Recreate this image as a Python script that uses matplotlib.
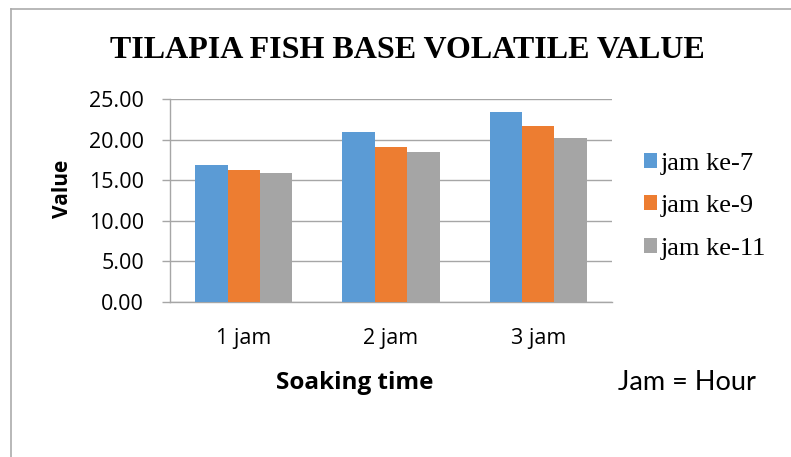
import matplotlib
matplotlib.use("Agg")
import matplotlib.pyplot as plt
from matplotlib.lines import Line2D
import numpy as np

# soaking time categories and base volatile values per sampling hour
categories = ["1 jam", "2 jam", "3 jam"]
series_names = ["jam ke-7", "jam ke-9", "jam ke-11"]
jam_ke_7 = [16.92, 20.92, 23.39]
jam_ke_9 = [16.23, 19.07, 21.70]
jam_ke_11 = [15.86, 18.49, 20.18]
y_ticks = [0, 5, 10, 15, 20, 25]

colors = ["#5B9BD5", "#ED7D31", "#A5A5A5"]
grid_color = "#A6A6A6"
W, H = 791, 457

fig = plt.figure(figsize=(W / 100, H / 100), dpi=100)
ax = fig.add_axes([170.3 / W, 1 - 301.7 / H, 441.4 / W, 202.4 / H])

x = np.arange(len(categories))
bw = 0.22
for i, (vals, name) in enumerate(zip([jam_ke_7, jam_ke_9, jam_ke_11], series_names)):
    ax.bar(x + (i - 1) * bw, vals, width=bw, color=colors[i], label=name, zorder=3)

ax.set_xlim(-0.5, len(categories) - 0.5)
ax.set_ylim(0, 25)
ax.set_yticks(y_ticks)
ax.set_yticklabels([f"{v:.2f}" for v in y_ticks], fontfamily="Open Sans", fontsize=15.5)
ax.set_xticks(x)
ax.set_xticklabels(categories, fontfamily="Open Sans", fontsize=15.5)
ax.yaxis.grid(True, color=grid_color, linewidth=1.0, zorder=0)
ax.tick_params(axis="y", length=6, width=1.0, color=grid_color, pad=13)
ax.tick_params(axis="x", length=0, pad=19)
for side in ["top", "right"]:
    ax.spines[side].set_visible(False)
for side in ["left", "bottom"]:
    ax.spines[side].set_color(grid_color)
    ax.spines[side].set_linewidth(1.0)

# outer chart frame (only top and left edges fall inside the image)
fig.add_artist(Line2D([11 / W, 11 / W], [0, 1 - 9 / H], color="#ABABAB", linewidth=1.2))
fig.add_artist(Line2D([11 / W, 1], [1 - 9 / H, 1 - 9 / H], color="#ABABAB", linewidth=1.2))

fig.text(407 / W, 1 - 58.3 / H, "TILAPIA FISH BASE VOLATILE VALUE", ha="center", va="baseline",
         fontfamily="Liberation Serif", fontweight="bold", fontsize=23)
fig.text(62 / W, 1 - 189 / H, "Value", rotation=90, ha="center", va="center",
         fontfamily="Open Sans", fontweight="bold", fontsize=15)
fig.text(355 / W, 1 - 383 / H, "Soaking time", ha="center", va="center",
         fontfamily="Open Sans", fontweight="bold", fontsize=17.5)
fig.text(686.5 / W, 1 - 383 / H, "Jam = Hour", ha="center", va="center",
         fontfamily="Lato", fontsize=19.5)

fig.legend(loc="upper left", bbox_to_anchor=(644 / W, 1 - 152.5 / H), frameon=False,
           prop={"family": "Liberation Serif", "size": 19},
           handlelength=0.5, handleheight=0.5, handletextpad=0.15,
           labelspacing=0.78, borderpad=0, borderaxespad=0)

fig.savefig("out.png", dpi=100)
